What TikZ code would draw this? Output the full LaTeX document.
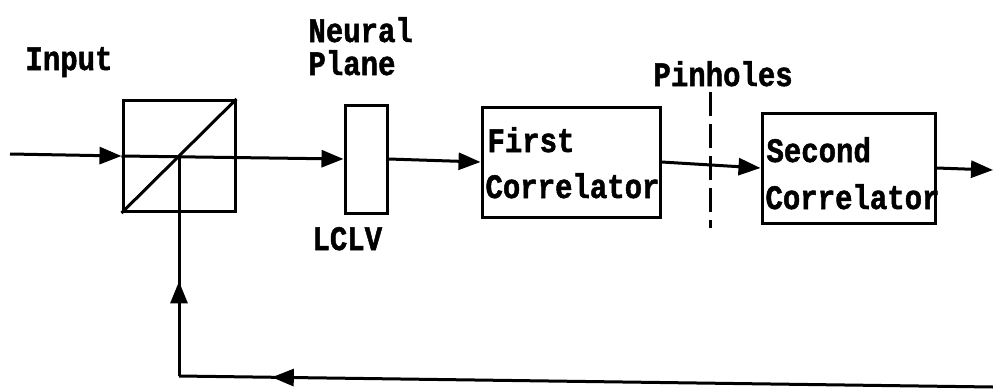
\documentclass[tikz,border=0pt]{standalone}
\usepackage{fontspec}
\newfontfamily\lblfont{Liberation Mono}[UprightFont=* Bold, FakeBold=1.6]
\newcommand\lbltxt[1]{\scalebox{1}[1.18]{#1}}
\usetikzlibrary{arrows.meta,decorations.markings}
\begin{document}
\begin{tikzpicture}[x=1pt,y=-1pt, line width=3pt,
  lbl/.style={font=\fontsize{29}{30}\lblfont, inner sep=0pt, anchor=base west},
  blk/.style={draw, line width=3pt, inner sep=0pt},
  arr/.style={-{Triangle[length=22pt,width=17pt]}},
  midarr/.style={postaction={decorate}, decoration={markings, mark=at position #1 with {\arrow{Triangle[length=22pt,width=17pt]}}}}]
\useasboundingbox (0,0) rectangle (993,391);
% blocks
\node[blk, minimum width=112pt, minimum height=111pt] (bs) at (179,156) {};
\node[blk, minimum width=42pt, minimum height=108pt] (lclv) at (366,159) {};
\node[blk, minimum width=178pt, minimum height=110pt] (fc) at (571,162) {};
\node[blk, minimum width=173pt, minimum height=110pt] (sc) at (848.5,168) {};
% coordinates
\coordinate (in) at (10,154);
\coordinate (out) at (993,170);
\coordinate (fbR) at (993,387);
\coordinate (fbL) at (179,376);
\coordinate (phT) at (710,92);
\coordinate (phB) at (710,228);
% beam splitter diagonal
\draw (bs.south west) -- (bs.north east);
% connectors
\draw[arr] (in) -- (bs.west);
\draw[arr] (bs.west) -- (lclv.west);
\draw[arr] (lclv.east) -- (fc.west);
\draw[arr] (fc.east) -- (sc.west);
\draw[arr] (sc.east) -- (out);
\draw[midarr=0.886] (fbR) -- (fbL);
\draw[midarr=0.43] (fbL) -- (bs.center);
% pinholes
\draw[dash pattern=on 24pt off 8pt] (phT) -- (phB);
% labels
\node[lbl] (tIn) at (24,70) {\lbltxt{Input}};
\node[lbl] (tNeu) at (307,42) {\lbltxt{Neural}};
\node[lbl] (tPla) at (307,75) {\lbltxt{Plane}};
\node[lbl] (tLc) at (311,250) {\lbltxt{LCLV}};
\node[lbl] (tPin) at (652,86) {\lbltxt{Pinholes}};
\node[lbl] (tF1) at (486,152) {\lbltxt{First}};
\node[lbl] (tF2) at (484,198) {\lbltxt{Correlator}};
\node[lbl] (tS1) at (765,162) {\lbltxt{Second}};
\node[lbl] (tS2) at (764,209) {\lbltxt{Correlator}};
\end{tikzpicture}
\end{document}
